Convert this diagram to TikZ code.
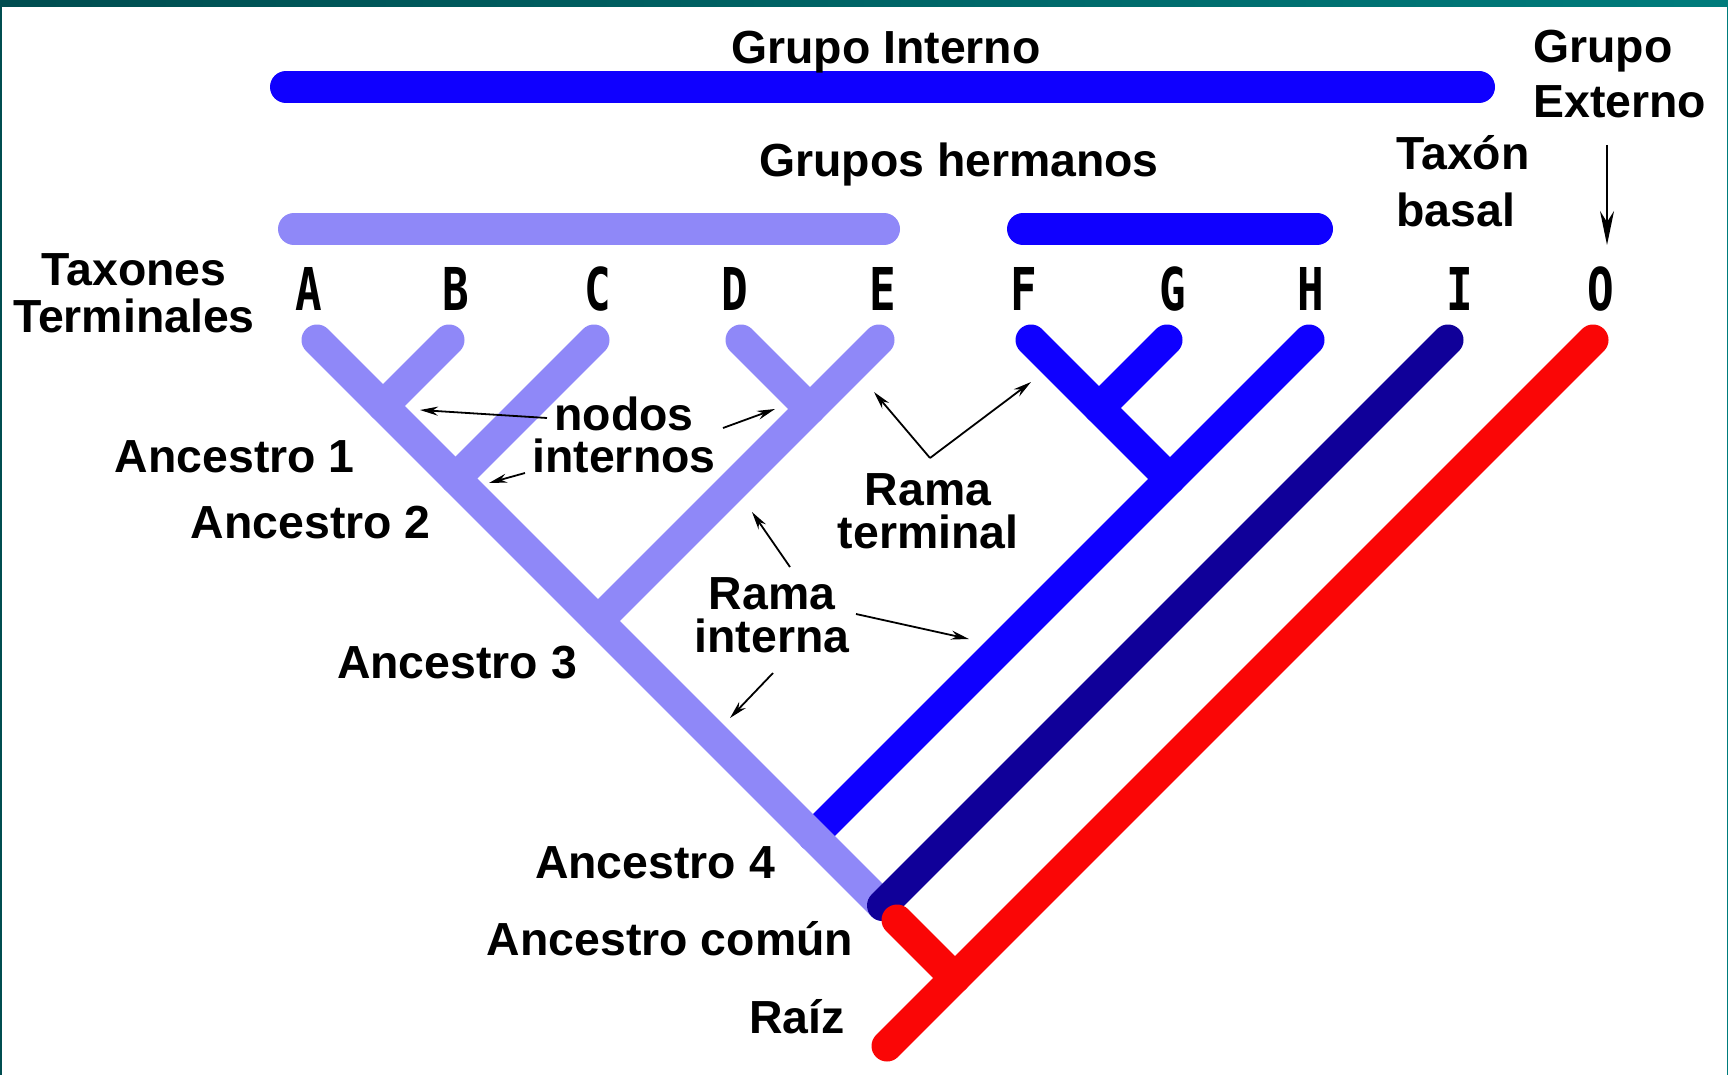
\documentclass[tikz,border=0pt]{standalone}
\usepackage{fontspec}
\setmainfont{Liberation Sans}
\newfontfamily\taxfont{DejaVu Sans Mono}
\usetikzlibrary{arrows.meta}

\definecolor{lav}{RGB}{143,136,248}
\definecolor{blueb}{RGB}{15,0,255}
\definecolor{navyb}{RGB}{16,0,153}
\definecolor{redb}{RGB}{250,6,6}
\definecolor{frameL}{RGB}{0,77,80}
\definecolor{frameR}{RGB}{0,124,124}

\newcommand{\tx}[1]{\scalebox{0.75}[1]{#1}}

\begin{document}
\begin{tikzpicture}[x=0.5pt, y=-0.5pt,
    branch/.style={line width=15.5pt, line cap=round},
    bar/.style={line width=16pt, line cap=round},
    lbl/.style={font=\fontsize{23.2}{27}\selectfont\bfseries, inner sep=0pt, anchor=base},
    taxon/.style={font=\fontsize{29.5}{30}\selectfont\taxfont\bfseries, inner sep=0pt, anchor=base},
    ptr/.style={line width=0.9pt, -{Stealth[length=9pt,width=4.5pt]}}]
  \useasboundingbox (0,0) rectangle (1728,1075);
  % frame
  \fill[white] (0,0) rectangle (1728,1075);
  \shade[left color=frameL, right color=frameR] (0,0) rectangle (1728,7);
  \fill[frameL] (0,0) rectangle (2,1075);
  \fill[frameR] (1727,0) rectangle (1728,1075);

  % group bars
  \draw[bar, blueb] (286,87) -- (1479,87);
  \draw[bar, lav] (294,229) -- (884,229);
  \draw[bar, blueb] (1023,229) -- (1317,229);

  % tips
  \coordinate (tA) at (317,340);
  \coordinate (tB) at (449,340);
  \coordinate (tC) at (594,340);
  \coordinate (tD) at (741,340);
  \coordinate (tE) at (879,340);
  \coordinate (tF) at (1031,340);
  \coordinate (tG) at (1167,340);
  \coordinate (tH) at (1309,340);
  \coordinate (tI) at (1448,340);
  \coordinate (tO) at (1593,340);
  % internal nodes
  \coordinate (nAB) at (383,406);
  \coordinate (nABC) at (455.5,478.5);
  \coordinate (nDE) at (810,409);
  \coordinate (anc3) at (598,621);
  \coordinate (nFG) at (1099,408);
  \coordinate (nFGH) at (1170,479);
  \coordinate (anc4) at (813,836);
  \coordinate (anc5) at (882.5,905.5);
  \coordinate (stub) at (897,920);
  \coordinate (nroot) at (955,978);
  \coordinate (root) at (887,1046);

  % tree
  \draw[branch, blueb] (tF) -- (nFGH);
  \draw[branch, blueb] (tG) -- (nFG);
  \draw[branch, blueb] (tH) -- (anc4);
  \draw[branch, lav] (tA) -- (anc5);
  \draw[branch, lav] (tB) -- (nAB);
  \draw[branch, lav] (tC) -- (nABC);
  \draw[branch, lav] (tD) -- (nDE);
  \draw[branch, lav] (tE) -- (anc3);
  \draw[branch, navyb] (tI) -- (anc5);
  \draw[branch, redb] (tO) -- (root);
  \draw[branch, redb] (stub) -- (nroot);

  % taxa
  \foreach \t/\x in {A/309,B/456,C/598,D/735,E/883,F/1024,G/1173,H/1311,I/1460,O/1601}
    \node[taxon] (l\t) at (\x,310) {\tx{\t}};

  % labels
  \node[lbl] (gint) at (886,64) {Grupo Interno};
  \node[lbl] (gher) at (959,177) {Grupos hermanos};
  \node[lbl, anchor=base west, align=left, font=\fontsize{23.2}{27.5}\selectfont\bfseries] (gext) at (1533,118) {Grupo\\Externo};
  \node[lbl, anchor=base west, align=left, font=\fontsize{23.2}{28.5}\selectfont\bfseries] (basal) at (1396,227) {Taxón\\basal};
  \node[lbl, align=center, font=\fontsize{23.2}{23.5}\selectfont\bfseries] (term) at (134,332) {Taxones\\Terminales};
  \node[lbl, anchor=base east] (a1) at (355,472) {Ancestro 1};
  \node[lbl, anchor=base east] (a2) at (431,538) {Ancestro 2};
  \node[lbl] (a3) at (457,678) {Ancestro 3};
  \node[lbl] (a4) at (655,878) {Ancestro 4};
  \node[lbl] (acom) at (670,955) {Ancestro común};
  \node[lbl] (raiz) at (797,1033) {Raíz};
  \node[lbl, align=center, font=\fontsize{23.2}{21}\selectfont\bfseries] (nodos) at (624,472) {nodos\\internos};
  \node[lbl, align=center, font=\fontsize{23.2}{21.5}\selectfont\bfseries] (rterm) at (928,548) {Rama\\terminal};
  \node[lbl, align=center, font=\fontsize{23.2}{21.5}\selectfont\bfseries] (rint) at (772,652) {Rama\\interna};

  % pointers
  \coordinate (p1) at (547,418);
  \coordinate (q1) at (420,410);
  \coordinate (p2) at (525,473);
  \coordinate (q2) at (489,483);
  \coordinate (p3) at (723,428);
  \coordinate (q3) at (775,409);
  \coordinate (apex) at (930,458);
  \coordinate (q4) at (874,392);
  \coordinate (q5) at (1031,382);
  \coordinate (p6) at (790,567);
  \coordinate (q6) at (752,512);
  \coordinate (p7) at (856,614);
  \coordinate (q7) at (969,639);
  \coordinate (p8) at (773,673);
  \coordinate (q8) at (730,718);
  \coordinate (p9) at (1607,145);
  \coordinate (q9) at (1607,245);
  \draw[ptr] (p1) -- (q1);
  \draw[ptr] (p2) -- (q2);
  \draw[ptr] (p3) -- (q3);
  \draw[ptr] (apex) -- (q4);
  \draw[ptr] (apex) -- (q5);
  \draw[ptr] (p6) -- (q6);
  \draw[ptr] (p7) -- (q7);
  \draw[ptr] (p8) -- (q8);
  \draw[line width=1pt, -{Stealth[length=17pt,width=7pt]}] (p9) -- (q9);
\end{tikzpicture}
\end{document}
